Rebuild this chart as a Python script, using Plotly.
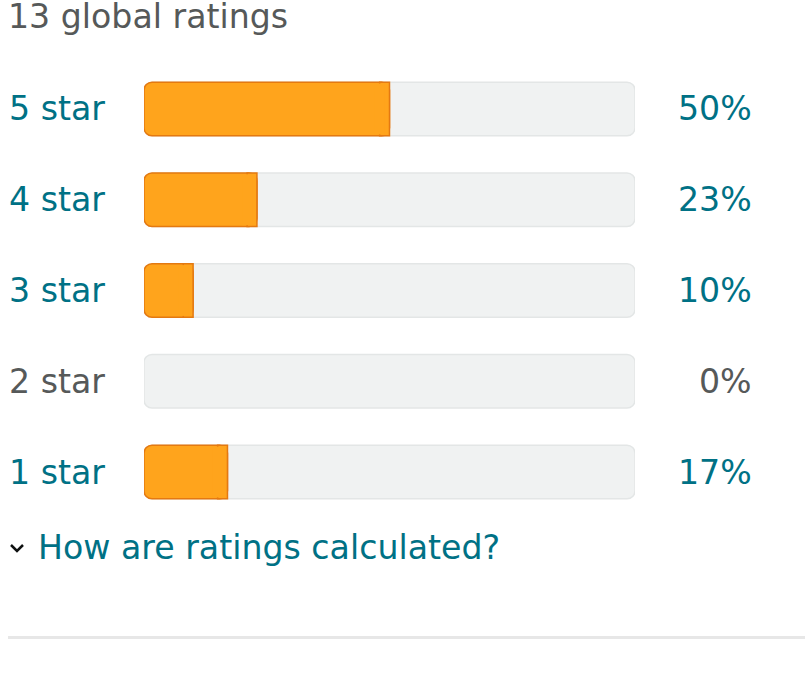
import plotly.graph_objects as go

W, H = 805, 688
categories = ["5 star", "4 star", "3 star", "2 star", "1 star"]
percents = [50, 23, 10, 0, 17]
total_ratings = 13
title_text = f"{total_ratings} global ratings"
footer_text = "How are ratings calculated?"
full_scale = 100

TEAL = "#007185"
GRAY = "#565959"
ORANGE = "#FFA41C"
ORANGE_LINE = "#E47911"
TRACK = "#F0F2F2"
TRACK_LINE = "#E3E6E6"
FONT = "DejaVu Sans"
FS = 33.2
RADIUS = 8
BAR_W = 0.59
END_CAP = 2.0  # length (in % units) of the square-ended cap piece

def px(x):
    return x / W

def py(y):
    return 1 - y / H

n = len(categories)
line_w = [1.5 if p > 0 else 0 for p in percents]
cap_len = [min(END_CAP, p) for p in percents]
cap_base = [p - c for p, c in zip(percents, cap_len)]
patch_base = [max(b - c / 2, 0) for b, c in zip(cap_base, cap_len)]
common = dict(orientation="h", hoverinfo="skip", showlegend=False)

fig = go.Figure()
# background track (explicit base -> all corners rounded)
fig.add_trace(go.Bar(
    y=categories, x=[full_scale] * n, base=[0] * n, width=BAR_W, zorder=0,
    marker=dict(color=TRACK, line=dict(color=TRACK_LINE, width=1.5), cornerradius=RADIUS),
    **common))
# rounded fill 0 -> value
fig.add_trace(go.Bar(
    y=categories, x=percents, base=[0] * n, width=BAR_W, zorder=1,
    marker=dict(color=ORANGE, line=dict(color=ORANGE_LINE, width=line_w), cornerradius=RADIUS),
    **common))
# square right-end cap
fig.add_trace(go.Bar(
    y=categories, x=cap_len, base=cap_base, width=BAR_W, zorder=2,
    marker=dict(color=ORANGE, line=dict(color=ORANGE_LINE, width=line_w), cornerradius=0),
    **common))
# interior patch hiding the joint
fig.add_trace(go.Bar(
    y=categories, x=cap_len, base=patch_base, width=BAR_W - 0.03, zorder=3,
    marker=dict(color=ORANGE, line=dict(width=0), cornerradius=0),
    **common))

for c, p in zip(categories, percents):
    col = TEAL if p > 0 else GRAY
    fig.add_annotation(x=px(7), xref="paper", y=c, yref="y", text=c,
                       xanchor="left", yanchor="middle", showarrow=False,
                       font=dict(family=FONT, size=FS, color=col))
    fig.add_annotation(x=px(754), xref="paper", y=c, yref="y", text=f"{p}%",
                       xanchor="right", yanchor="middle", showarrow=False,
                       font=dict(family=FONT, size=FS, color=col))

fig.add_annotation(x=px(6), xref="paper", y=py(16), yref="paper", text=title_text,
                   xanchor="left", yanchor="middle", showarrow=False,
                   font=dict(family=FONT, size=FS, color=GRAY))
fig.add_annotation(x=px(36), xref="paper", y=py(547), yref="paper", text=footer_text,
                   xanchor="left", yanchor="middle", showarrow=False,
                   font=dict(family=FONT, size=FS, color=TEAL))

# chevron icon
fig.add_shape(type="path", xref="paper", yref="paper",
              path=f"M {px(11)},{py(545)} L {px(17)},{py(551)} L {px(23)},{py(545)}",
              line=dict(color="#0F1111", width=2.5))
# divider
fig.add_shape(type="line", xref="paper", yref="paper",
              x0=px(8), x1=1, y0=py(637.5), y1=py(637.5),
              line=dict(color="#E7E7E7", width=3))

fig.update_layout(
    width=W, height=H, barmode="overlay",
    margin=dict(l=0, r=0, t=0, b=0),
    paper_bgcolor="white", plot_bgcolor="white",
    xaxis=dict(domain=[px(144), px(635)], range=[0, full_scale], visible=False, fixedrange=True),
    yaxis=dict(domain=[py(517.4), py(63.6)], range=[4.5, -0.5], type="category",
               categoryorder="array", categoryarray=categories, visible=False, fixedrange=True),
)

fig.write_html("out.html", config={"displayModeBar": False},
               post_script="document.body.style.margin='0';document.body.style.overflow='hidden';")
